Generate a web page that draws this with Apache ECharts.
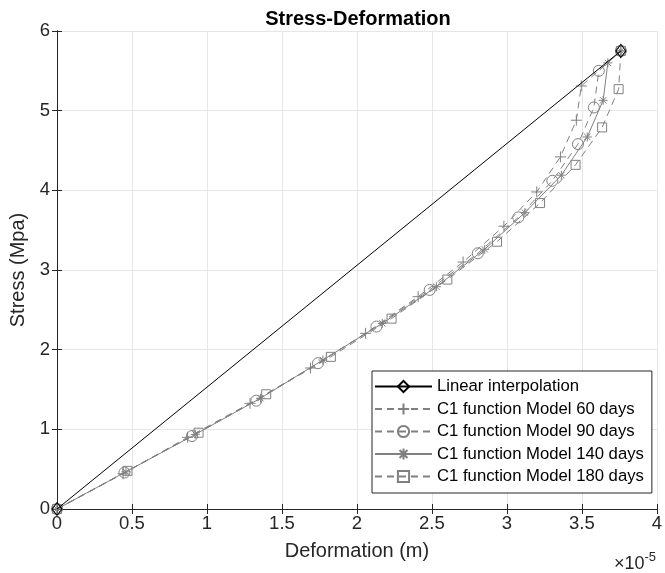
<!DOCTYPE html>
<html>
<head>
<meta charset="utf-8">
<script src="https://cdn.jsdelivr.net/npm/echarts@6/dist/echarts.min.js"></script>
<style>html,body{margin:0;padding:0;background:#fff}#c{width:665px;height:573px}</style>
</head>
<body>
<div id="c"></div>
<script>
// Deformation in units of 1e-5 m, stress in MPa
const linearX = [0, 3.76];
const linearY = [0, 5.75];

const d60X = [0, 0.44, 0.871, 1.287, 1.69, 2.058, 2.408, 2.708, 2.98, 3.199, 3.357, 3.463, 3.496, 3.76];
const d60Y = [0, 0.442, 0.90, 1.327, 1.77, 2.205, 2.665, 3.10, 3.55, 3.98, 4.42, 4.88, 5.31, 5.75];

const d90X = [0, 0.45, 0.90, 1.329, 1.74, 2.13, 2.485, 2.806, 3.076, 3.303, 3.474, 3.58, 3.613, 3.76];
const d90Y = [0, 0.458, 0.916, 1.36, 1.83, 2.29, 2.75, 3.21, 3.66, 4.12, 4.58, 5.04, 5.50, 5.75];

const d140X = [0, 0.46, 0.922, 1.357, 1.773, 2.169, 2.53, 2.852, 3.12, 3.363, 3.536, 3.642, 3.673, 3.76];
const d140Y = [0, 0.467, 0.937, 1.39, 1.87, 2.33, 2.79, 3.26, 3.72, 4.19, 4.67, 5.13, 5.60, 5.75];

const d180X = [0, 0.47, 0.944, 1.395, 1.826, 2.231, 2.603, 2.934, 3.221, 3.458, 3.635, 3.745, 3.76];
const d180Y = [0, 0.479, 0.958, 1.44, 1.91, 2.39, 2.88, 3.355, 3.84, 4.32, 4.79, 5.27, 5.75];

const seriesNames = ['Linear interpolation', 'C1 function Model 60 days', 'C1 function Model 90 days', 'C1 function Model 140 days', 'C1 function Model 180 days'];

const zip = (xs, ys) => xs.map((x, i) => [x, ys[i]]);
const GRAY = '#808080';
const AX = '#262626';
const FONT = 'Liberation Sans, Arial, Helvetica, sans-serif';

const PLUS = 'path://M5,0L5,10M0,5L10,5';
const STAR = 'path://M5,0L5,10M0,5L10,5M1.5,1.5L8.5,8.5M1.5,8.5L8.5,1.5';

function mk(name, data, color, type, symbol, size, z) {
  return {
    name, type: 'line', data, z,
    symbol, symbolSize: size, showSymbol: true,
    lineStyle: { color, width: 1, type },
    itemStyle: { color: 'rgba(0,0,0,0)', borderColor: color, borderWidth: 1 },
    emphasis: { disabled: true },
    animation: false
  };
}

const chart = echarts.init(document.getElementById('c'), null, { renderer: 'canvas' });
const axisCommon = {
  axisLine: { show: true, lineStyle: { color: AX, width: 1 } },
  axisTick: { show: true, inside: true, length: 5, lineStyle: { color: AX } },
};
chart.setOption({
  backgroundColor: '#fff',
  textStyle: { fontFamily: FONT },
  grid: { left: 57, right: 5, top: 31, bottom: 64, containLabel: false },
  xAxis: [
    Object.assign({
      type: 'value', min: 0, max: 4, interval: 0.5, position: 'bottom',
      name: 'Deformation (m)', nameLocation: 'middle', nameGap: 32,
      nameTextStyle: { color: AX, fontSize: 20, fontFamily: FONT },
      axisLabel: { color: AX, fontSize: 18.5, margin: 5, fontFamily: FONT },
      splitLine: { show: true, lineStyle: { color: '#e6e6e6', width: 1 } }
    }, axisCommon),
    Object.assign({
      type: 'value', min: 0, max: 4, interval: 0.5, position: 'top',
      axisLabel: { show: false }, splitLine: { show: false }
    }, axisCommon)
  ],
  yAxis: [
    Object.assign({
      type: 'value', min: 0, max: 6, interval: 1, position: 'left',
      name: 'Stress (Mpa)', nameLocation: 'middle', nameGap: 25,
      nameTextStyle: { color: AX, fontSize: 20, fontFamily: FONT },
      axisLabel: { color: AX, fontSize: 18.5, margin: 7, fontFamily: FONT },
      splitLine: { show: true, lineStyle: { color: '#e6e6e6', width: 1 } }
    }, axisCommon),
    Object.assign({
      type: 'value', min: 0, max: 6, interval: 1, position: 'right',
      axisLabel: { show: false }, splitLine: { show: false }
    }, axisCommon)
  ],
  legend: {
    orient: 'vertical', left: 372, top: 371,
    data: seriesNames,
    itemWidth: 57, itemHeight: 14, itemGap: 5.5,
    padding: [7, 8, 8, 2],
    backgroundColor: '#fff', borderColor: AX, borderWidth: 1,
    textStyle: { color: '#000', fontSize: 16.7, lineHeight: 17, fontFamily: FONT },
    selectedMode: false
  },
  graphic: [
    { type: 'text', x: 358, y: 19, silent: true,
      style: { text: 'Stress-Deformation', font: 'bold 20px ' + FONT, fill: '#000', align: 'center', verticalAlign: 'middle' } },
    { type: 'text', x: 614, y: 562, silent: true,
      style: { text: '{a|×10}{b|-5}', align: 'left', verticalAlign: 'middle',
        rich: { a: { fontSize: 18, fontFamily: FONT, fill: AX, verticalAlign: 'bottom' },
                b: { fontSize: 13, fontFamily: FONT, fill: AX, verticalAlign: 'top', padding: [0,0,9,0] } } } }
  ],
  series: [
    mk(seriesNames[0], zip(linearX, linearY), '#000', 'solid', 'diamond', [10, 13], 6),
    mk(seriesNames[1], zip(d60X, d60Y), GRAY, [7, 5], PLUS, 11, 3),
    mk(seriesNames[2], zip(d90X, d90Y), GRAY, [7, 5], 'circle', 11, 3),
    mk(seriesNames[3], zip(d140X, d140Y), GRAY, 'solid', STAR, 9, 3),
    mk(seriesNames[4], zip(d180X, d180Y), GRAY, [7, 5], 'rect', 9, 3)
  ]
});
</script>
</body>
</html>
